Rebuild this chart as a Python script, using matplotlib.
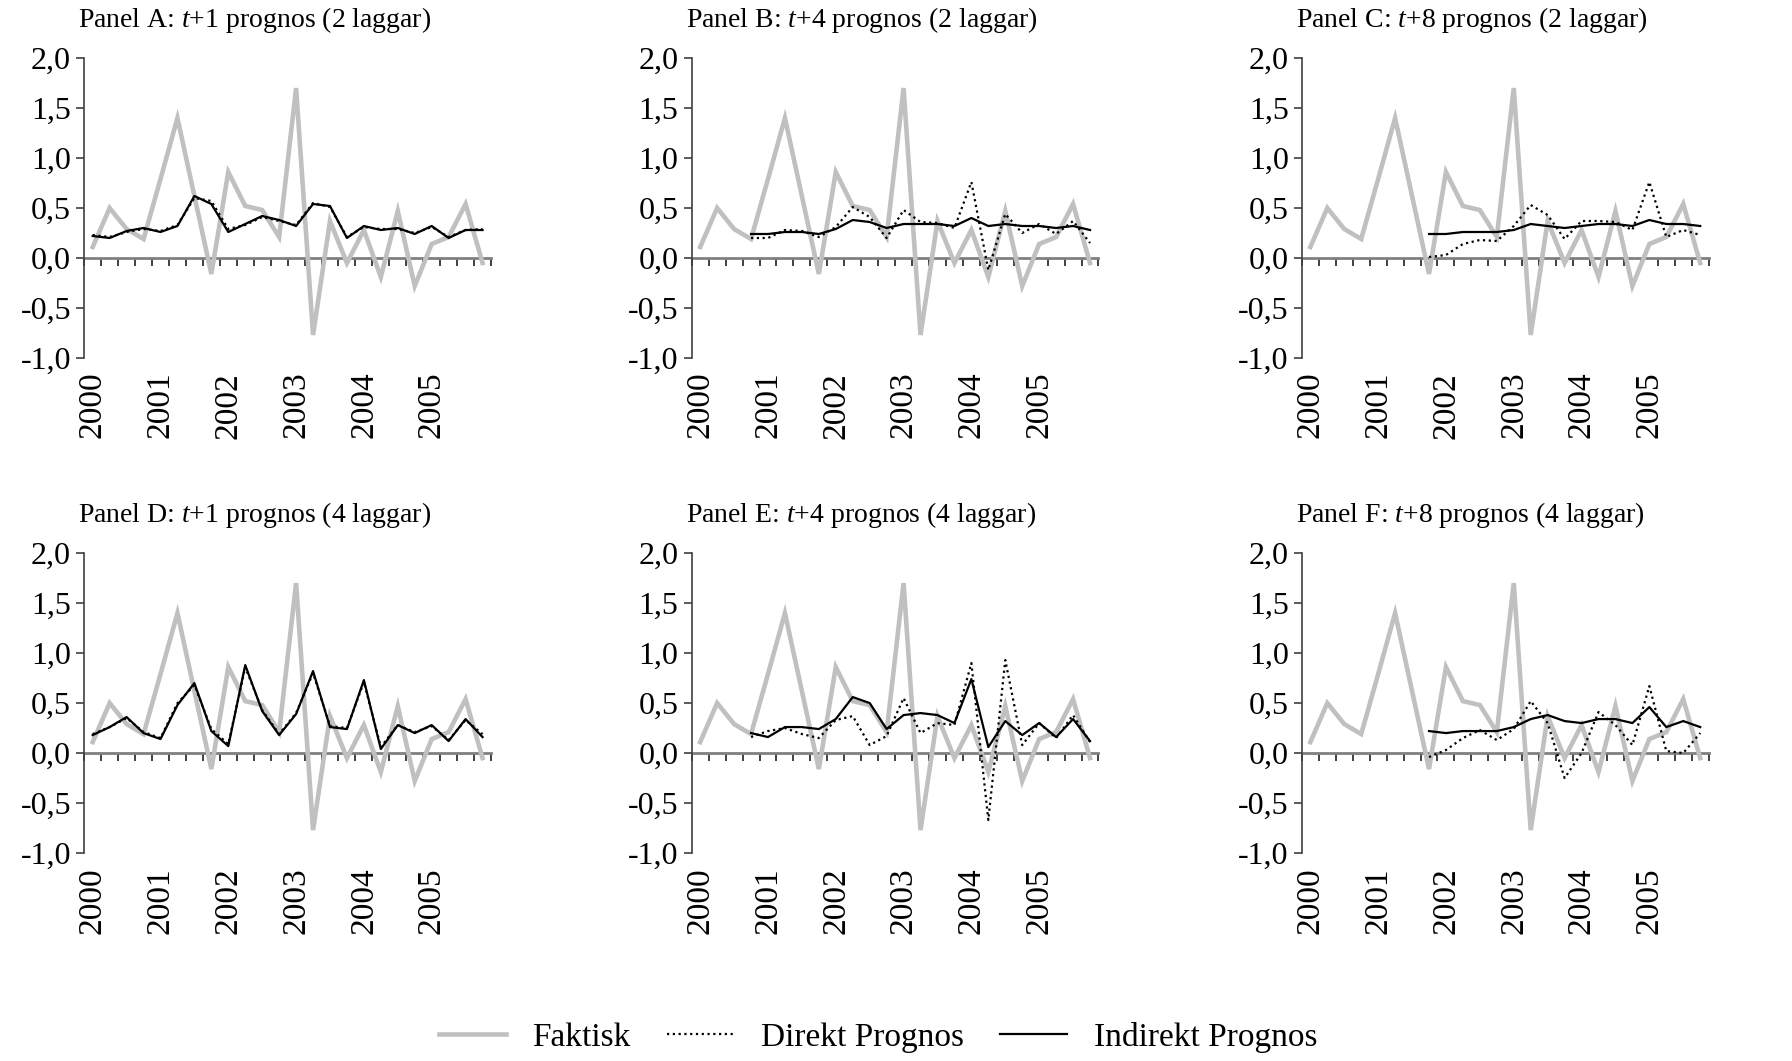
import matplotlib
matplotlib.use("Agg")
import matplotlib.pyplot as plt
import numpy as np

plt.rcParams['font.family'] = ['Liberation Serif', 'DejaVu Serif']
plt.rcParams['mathtext.fontset'] = 'custom'
plt.rcParams['mathtext.rm'] = 'Liberation Serif'
plt.rcParams['mathtext.it'] = 'Liberation Serif:italic'

# quarters 2000Q1 .. 2005Q4
quarters = [f"{y}Q{q}" for y in range(2000, 2006) for q in range(1, 5)]
year_labels = ["2000", "2001", "2002", "2003", "2004", "2005"]

y_ticks = [-1.0, -0.5, 0.0, 0.5, 1.0, 1.5, 2.0]
y_labels = ["-1,0", "-0,5", "0,0", "0,5", "1,0", "1,5", "2,0"]

faktisk = [0.11, 0.50, 0.29, 0.19, 0.79, 1.40, 0.62, -0.16, 0.86, 0.52, 0.48, 0.21,
           1.70, -0.77, 0.37, -0.05, 0.28, -0.19, 0.47, -0.28, 0.14, 0.21, 0.54, -0.05]

N = None
# Panel A: t+1, 2 laggar
direkt_a = [0.23, 0.21, 0.26, 0.29, 0.27, 0.33, 0.60, 0.57, 0.29, 0.33, 0.41, 0.37,
            0.33, 0.55, 0.51, 0.21, 0.31, 0.29, 0.29, 0.25, 0.31, 0.21, 0.28, 0.29]
indirekt_a = [0.22, 0.20, 0.27, 0.30, 0.26, 0.32, 0.62, 0.54, 0.26, 0.34, 0.42, 0.38,
              0.32, 0.54, 0.52, 0.20, 0.32, 0.28, 0.30, 0.24, 0.32, 0.20, 0.28, 0.28]
# Panel B: t+4, 2 laggar
direkt_b = [N, N, N, 0.20, 0.20, 0.28, 0.27, 0.21, 0.31, 0.51, 0.41, 0.20,
            0.48, 0.36, 0.35, 0.30, 0.76, -0.12, 0.44, 0.25, 0.34, 0.24, 0.37, 0.15]
indirekt_b = [N, N, N, 0.24, 0.24, 0.26, 0.26, 0.24, 0.29, 0.38, 0.36, 0.30,
              0.34, 0.34, 0.34, 0.32, 0.40, 0.32, 0.34, 0.32, 0.32, 0.30, 0.32, 0.28]
# Panel C: t+8, 2 laggar
direkt_c = [N, N, N, N, N, N, N, 0.01, 0.03, 0.14, 0.18, 0.17,
            0.32, 0.53, 0.43, 0.19, 0.37, 0.37, 0.36, 0.28, 0.76, 0.21, 0.28, 0.23]
indirekt_c = [N, N, N, N, N, N, N, 0.24, 0.24, 0.26, 0.26, 0.26,
              0.28, 0.34, 0.32, 0.30, 0.32, 0.34, 0.34, 0.32, 0.38, 0.34, 0.34, 0.32]
# Panel D: t+1, 4 laggar
direkt_d = [0.19, 0.26, 0.35, 0.21, 0.15, 0.50, 0.68, 0.24, 0.09, 0.86, 0.43, 0.19,
            0.40, 0.80, 0.27, 0.25, 0.71, 0.06, 0.28, 0.21, 0.27, 0.13, 0.33, 0.19]
indirekt_d = [0.18, 0.26, 0.36, 0.20, 0.14, 0.48, 0.70, 0.22, 0.07, 0.88, 0.42, 0.18,
              0.39, 0.82, 0.26, 0.24, 0.73, 0.04, 0.28, 0.20, 0.28, 0.12, 0.34, 0.16]
# Panel E: t+4, 4 laggar
direkt_e = [N, N, N, 0.16, 0.22, 0.25, 0.19, 0.15, 0.33, 0.37, 0.08, 0.17,
            0.55, 0.20, 0.30, 0.28, 0.90, -0.67, 0.93, 0.08, 0.30, 0.15, 0.38, 0.11]
indirekt_e = [N, N, N, 0.20, 0.16, 0.26, 0.26, 0.24, 0.34, 0.56, 0.50, 0.24,
              0.38, 0.40, 0.38, 0.30, 0.74, 0.06, 0.32, 0.18, 0.30, 0.16, 0.34, 0.12]
# Panel F: t+8, 4 laggar
direkt_f = [N, N, N, N, N, N, N, -0.04, 0.03, 0.15, 0.23, 0.13,
            0.24, 0.52, 0.30, -0.25, 0.00, 0.41, 0.28, 0.08, 0.67, 0.02, 0.00, 0.20]
indirekt_f = [N, N, N, N, N, N, N, 0.22, 0.20, 0.22, 0.22, 0.22,
              0.26, 0.34, 0.38, 0.32, 0.30, 0.34, 0.34, 0.30, 0.46, 0.26, 0.32, 0.26]

titles = [
    "Panel A: $\\mathit{t}$+1 prognos (2 laggar)",
    "Panel B: $\\mathit{t}$+4 prognos (2 laggar)",
    "Panel C: $\\mathit{t}$+8 prognos (2 laggar)",
    "Panel D: $\\mathit{t}$+1 prognos (4 laggar)",
    "Panel E: $\\mathit{t}$+4 prognos (4 laggar)",
    "Panel F: $\\mathit{t}$+8 prognos (4 laggar)",
]
direkt = [direkt_a, direkt_b, direkt_c, direkt_d, direkt_e, direkt_f]
indirekt = [indirekt_a, indirekt_b, indirekt_c, indirekt_d, indirekt_e, indirekt_f]

GRAY = "#c0c0c0"


def to_arr(vals):
    return np.array([np.nan if v is None else v for v in vals], dtype=float)


fig = plt.figure(figsize=(17.92, 10.61), dpi=100)

lefts = [0.0470, 0.3860, 0.7265]
bottoms = [0.6626, 0.196]
width, height = 0.227, 0.2827

x = np.arange(len(quarters))
handles = None

for i in range(6):
    row, col = divmod(i, 3)
    ax = fig.add_axes([lefts[col], bottoms[row], width, height])

    l1, = ax.plot(x, faktisk, color=GRAY, lw=3.3, solid_joinstyle='miter', label="Faktisk")
    l2, = ax.plot(x, to_arr(direkt[i]), color="black", lw=1.6,
                  linestyle=(0, (1, 1.6)), label="Direkt Prognos")
    l3, = ax.plot(x, to_arr(indirekt[i]), color="black", lw=1.6, label="Indirekt Prognos")
    if handles is None:
        handles = [l1, l2, l3]

    ax.set_xlim(-0.5, len(quarters) - 0.5)
    ax.set_ylim(-1.0, 2.0)

    for side in ["top", "right", "bottom"]:
        ax.spines[side].set_visible(False)
    ax.spines["left"].set_color("#404040")
    ax.spines["left"].set_linewidth(1.2)

    ax.set_yticks(y_ticks)
    ax.set_yticklabels(y_labels, fontsize=23)
    ax.tick_params(axis="y", direction="out", length=5.5, width=1.2,
                   color="#404040", pad=4)

    # year labels at the first quarter of each year, low position
    ax.set_xticks(x[::4])
    ax.set_xticklabels(year_labels, rotation=90, fontsize=24, va="top")
    ax.tick_params(axis="x", length=0, pad=10)

    # category axis crossing at zero with ticks between categories
    zero_ax = ax.secondary_xaxis(1 / 3)
    zero_ax.set_xticks(np.arange(-0.5, len(quarters), 1.0))
    zero_ax.set_xticklabels([])
    zero_ax.spines["bottom"].set_color("#808080")
    zero_ax.spines["bottom"].set_linewidth(2.0)
    zero_ax.tick_params(axis="x", direction="out", length=6, width=1.2,
                        color="#202020")

    ax.text(-0.015, 1.105, titles[i], transform=ax.transAxes, fontsize=20,
            ha="left", va="baseline")

fig.legend(handles, [h.get_label() for h in handles], loc="center",
           bbox_to_anchor=(0.49, 0.022), ncol=3, frameon=False, fontsize=24,
           handlelength=2.0, handletextpad=0.8, columnspacing=1.1)

fig.savefig("out.png", dpi=100)
